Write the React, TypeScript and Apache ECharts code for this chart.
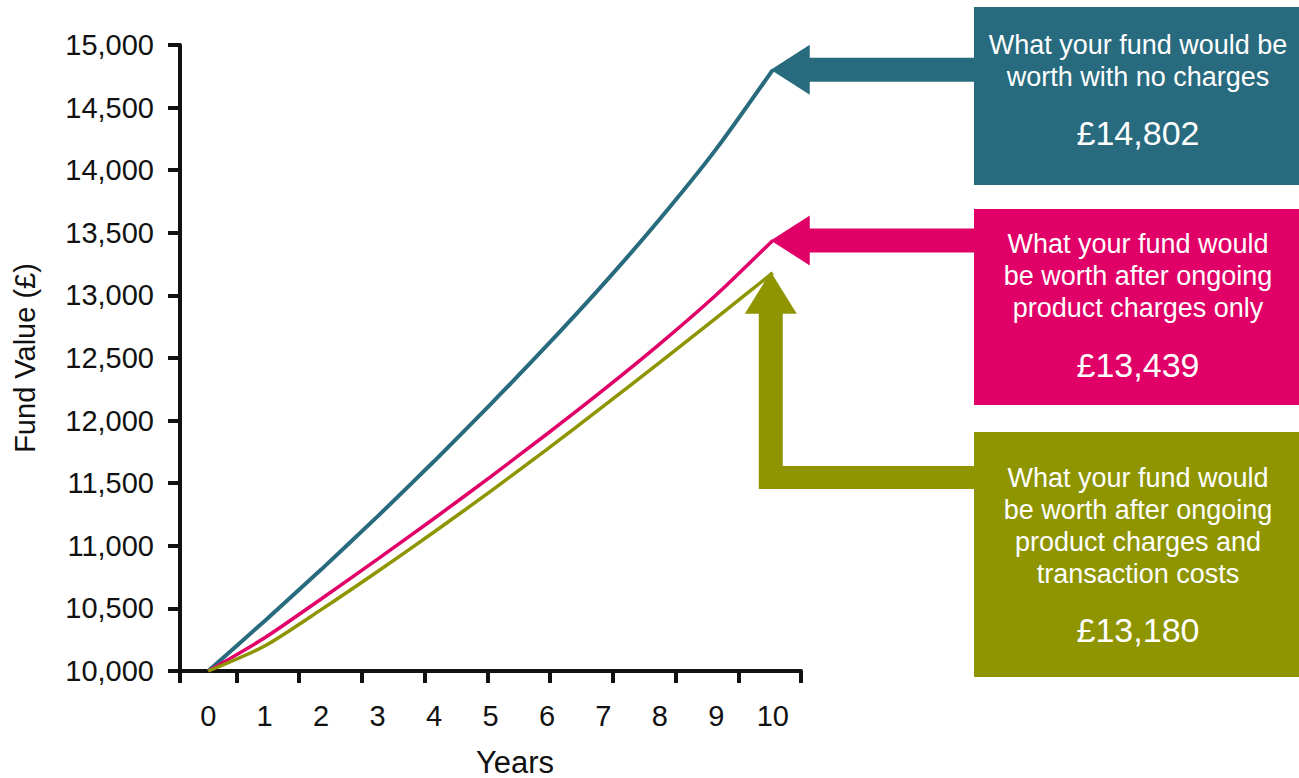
import React, { useEffect, useRef } from "react";
import * as echarts from "echarts";

const years = ["0", "1", "2", "3", "4", "5", "6", "7", "8", "9", "10"];
const noCharges = [10000, 10400, 10810, 11235, 11675, 12130, 12600, 13090, 13610, 14170, 14802];
const afterProduct = [10000, 10265, 10575, 10893, 11218, 11551, 11893, 12245, 12613, 13005, 13439];
const afterAll = [10000, 10200, 10490, 10795, 11110, 11435, 11770, 12115, 12465, 12820, 13180];

const yMin = 10000;
const yMax = 15000;
const yStep = 500;
// minor tick axis (uniform tick spacing drawn beneath the x axis)
const tickAxisMax = 9.9;
const tickValues = [0, 0.9, 1.9, 2.9, 3.9, 4.9, 5.9, 6.9, 7.9, 8.9, 9.9];

const colors = { none: "#286a7e", product: "#e00068", all: "#8e9500" };

const boxes = [
  { key: "none", lines: ["What your fund would be", "worth with no charges"], value: "£14,802" },
  { key: "product", lines: ["What your fund would", "be worth after ongoing", "product charges only"], value: "£13,439" },
  { key: "all", lines: ["What your fund would", "be worth after ongoing", "product charges and", "transaction costs"], value: "£13,180" },
];

const AXIS_FONT = "'Liberation Sans', Arial, sans-serif";
const BOX_FONT = "'Liberation Sans', Arial, sans-serif";
const INK = "#111111";

const fmt = (v: number) => v.toString().replace(/\B(?=(\d{3})+(?!\d))/g, ",");

export default function App() {
  const ref = useRef<HTMLDivElement>(null);
  useEffect(() => {
    if (!ref.current) return;
    const chart = echarts.init(ref.current, null, { renderer: "svg" });
    chart.setOption({
      animation: false,
      backgroundColor: "#ffffff",
      grid: { left: 180, right: 498, top: 45, bottom: 107, containLabel: false },
      xAxis: [
        {
          type: "category",
          data: years,
          boundaryGap: true,
          position: "bottom",
          axisLine: { show: true, lineStyle: { color: INK, width: 4 } },
          axisTick: { show: false },
          axisLabel: { fontSize: 29, color: INK, fontFamily: AXIS_FONT, margin: 30 },
          splitLine: { show: false },
        },
        {
          type: "value",
          min: 0,
          max: tickAxisMax,
          position: "bottom",
          axisLine: { show: false },
          axisTick: { show: true, length: 12, inside: false, customValues: tickValues, lineStyle: { color: INK, width: 4 } },
          axisLabel: { show: false },
          splitLine: { show: false },
        },
      ],
      yAxis: {
        type: "value",
        min: yMin,
        max: yMax,
        interval: yStep,
        name: "Fund Value (£)",
        nameLocation: "middle",
        nameGap: 141,
        nameTextStyle: { fontSize: 29, color: INK, fontFamily: AXIS_FONT },
        axisLine: { show: true, lineStyle: { color: INK, width: 4 } },
        axisTick: { show: true, length: 12, lineStyle: { color: INK, width: 4 } },
        axisLabel: { fontSize: 29, color: INK, fontFamily: AXIS_FONT, margin: 26, formatter: (v: number) => fmt(v) },
        splitLine: { show: false },
      },
      series: [
        { name: "No charges", type: "line", data: noCharges, symbol: "none", smooth: 0.25, lineStyle: { color: colors.none, width: 4 }, z: 3 },
        { name: "After product charges", type: "line", data: afterProduct, symbol: "none", smooth: 0.25, lineStyle: { color: colors.product, width: 3.5 }, z: 3 },
        { name: "After all costs", type: "line", data: afterAll, symbol: "none", smooth: 0.25, lineStyle: { color: colors.all, width: 3.5 }, z: 3 },
      ],
    });

    const last = years.length - 1;
    const tip = (arr: number[]) => chart.convertToPixel({ xAxisIndex: 0, yAxisIndex: 0 }, [years[last], arr[last]]) as number[];
    const tNone = tip(noCharges);
    const tProd = tip(afterProduct);
    const tAll = tip(afterAll);

    const boxLeft = 974;
    const boxW = 325;
    const cx = 1138;
    const boxGeo = [
      { y: 7, h: 178, textY: 61, valY: 133 },
      { y: 209, h: 196, textY: 276, valY: 365 },
      { y: 432, h: 245, textY: 526, valY: 630 },
    ];

    const graphic: any[] = [];
    boxes.forEach((b, i) => {
      const g = boxGeo[i];
      const c = (colors as any)[b.key];
      graphic.push({ type: "rect", shape: { x: boxLeft, y: g.y, width: boxW, height: g.h }, style: { fill: c }, z: 10 });
      graphic.push({
        type: "text", x: cx, y: g.textY, z: 11,
        style: { text: b.lines.join("\n"), fill: "#ffffff", fontSize: 27, lineHeight: 32, fontWeight: 300, fontFamily: BOX_FONT, align: "center", verticalAlign: "middle" },
      });
      graphic.push({
        type: "text", x: cx, y: g.valY, z: 11,
        style: { text: b.value, fill: "#ffffff", fontSize: 34, fontWeight: 300, fontFamily: BOX_FONT, align: "center", verticalAlign: "middle" },
      });
    });

    // horizontal arrows (teal, pink)
    const hArrow = (t: number[], c: string) => {
      const tx = t[0] - 2, ty = t[1];
      const headL = 39, headHW = 25, shaftHW = 12;
      graphic.push({ type: "rect", shape: { x: tx + headL - 1, y: ty - shaftHW, width: boxLeft - (tx + headL - 1), height: shaftHW * 2 }, style: { fill: c }, z: 9 });
      graphic.push({ type: "polygon", shape: { points: [[tx, ty], [tx + headL, ty - headHW], [tx + headL, ty + headHW]] }, style: { fill: c }, z: 9 });
    };
    hArrow(tNone, colors.none);
    hArrow(tProd, colors.product);

    // L-shaped arrow (olive)
    {
      const tx = tAll[0] - 2, ty = tAll[1] - 1;
      const headL = 42, headHW = 26, shaftHW = 12;
      const bottomY = 489, barTop = 466;
      graphic.push({
        type: "polygon",
        shape: { points: [[tx - shaftHW, ty + headL - 1], [tx + shaftHW, ty + headL - 1], [tx + shaftHW, barTop], [boxLeft, barTop], [boxLeft, bottomY], [tx - shaftHW, bottomY]] },
        style: { fill: colors.all }, z: 9,
      });
      graphic.push({ type: "polygon", shape: { points: [[tx, ty], [tx - headHW, ty + headL], [tx + headHW, ty + headL]] }, style: { fill: colors.all }, z: 9 });
    }

    graphic.push({
      type: "text", x: 515, y: 762, z: 11,
      style: { text: "Years", fill: INK, fontSize: 31, fontFamily: AXIS_FONT, align: "center", verticalAlign: "middle" },
    });

    chart.setOption({ graphic });
    return () => chart.dispose();
  }, []);

  return <div ref={ref} style={{ position: "fixed", left: 0, top: 0, width: 1299, height: 778 }} />;
}
